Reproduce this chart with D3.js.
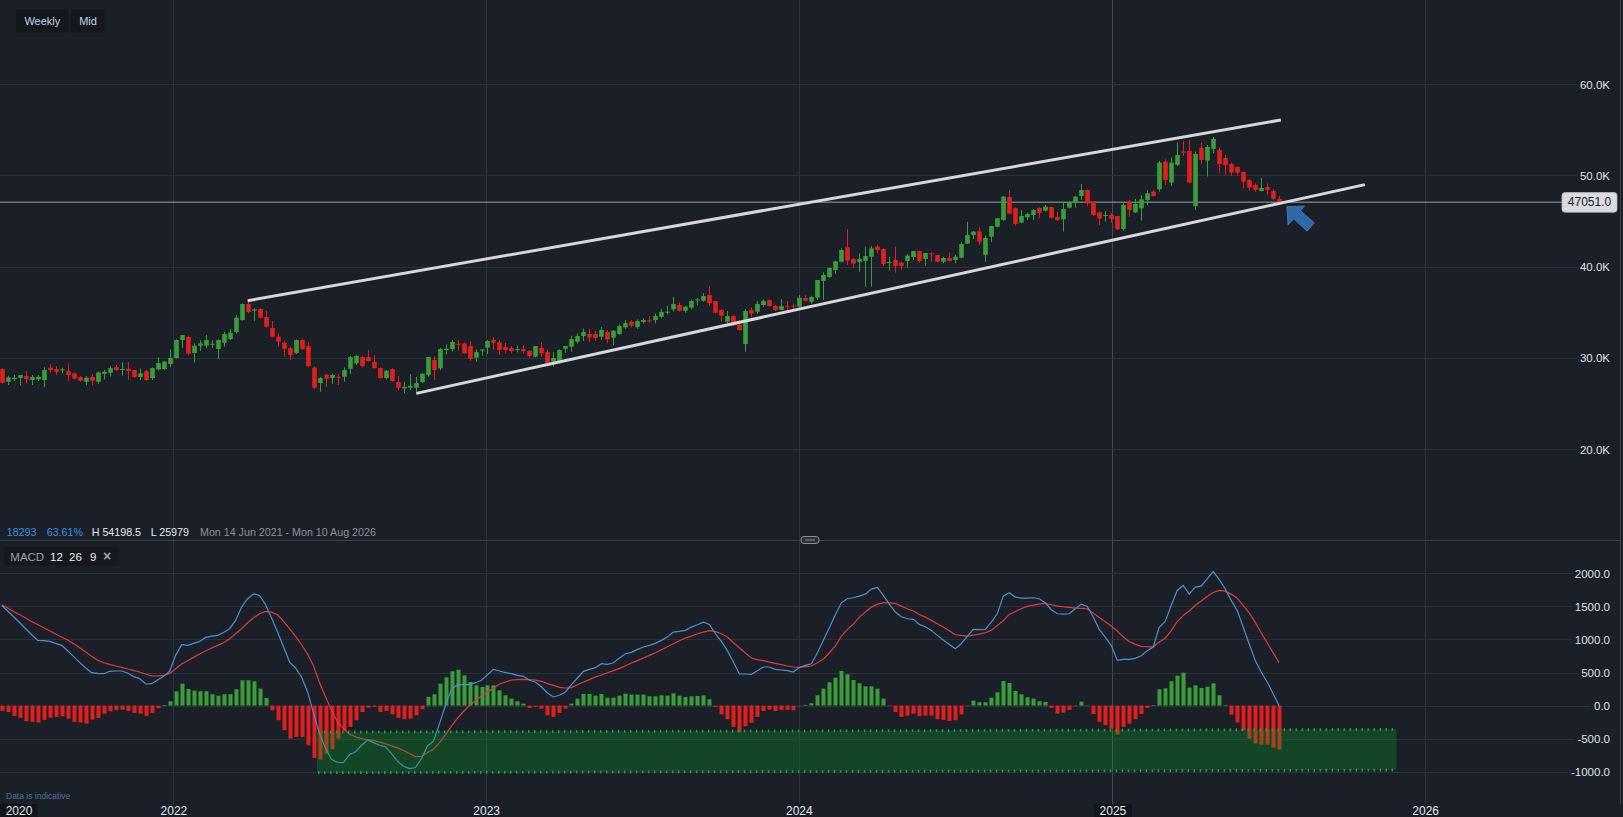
<!DOCTYPE html>
<html><head><meta charset="utf-8">
<script src="https://cdn.jsdelivr.net/npm/d3@7/dist/d3.min.js"></script>
<style>
html,body{margin:0;padding:0;background:#1b2028;overflow:hidden;}
svg{display:block;font-family:"Liberation Sans",Arial,Helvetica,sans-serif;}
</style></head><body>
<svg id="c" width="1623" height="817"></svg>
<script>
// ---------- DATA ----------
const startWeek = "2021-06-14";
const opens = [28761,27372,27664,27774,27993,27555,27628,27555,28907,28761,
28615,28542,28286,27884,27372,27884,27372,28249,28359,28980,
28688,28798,28651,27884,28542,27774,28725,28761,29309,29967,
31941,32270,30516,31320,31320,31466,30954,31649,32051,32818,
34134,35888,35157,35340,34463,33257,32306,31649,31064,30516,
31941,31283,28907,27226,28139,27774,27920,27920,28797,29382,
30077,30077,29528,28871,27774,28761,27336,26641,26714,26714,
27336,28103,29748,28834,30845,30954,31539,31576,31283,30004,
30771,31100,31941,31686,31173,31064,30845,30954,30735,30113,
31064,30625,29565,29638,30991,31210,31758,32380,32599,32599,
32306,32818,32197,32599,33330,33951,33367,33915,34097,34134,
34499,34938,35304,35779,35157,35486,36290,36254,36875,36217,
35230,33951,34573,33586,31502,35230,35048,35779,36327,35669,
35230,35632,35705,35596,36546,36144,36583,38410,38849,39616,
40530,42102,40822,40493,40603,41078,42175,41918,40420,40712,
40420,40603,41041,41699,40822,41443,41261,40530,40932,40713,
40969,42504,43454,43856,41261,43271,44367,45098,47620,46378,
44806,45391,45647,46414,46122,46524,45427,45171,46451,46999,
47730,48388,47109,45939,45537,45647,45537,44112,47109,45939,
46378,47291,48205,48461,51495,49192,51129,52591,52664,46634,
52994,51604,52884,52774,51897,51239,50911,50362,49485,48937,
48279,48718,48279,47401];
const highs = [28834,28030,28103,28103,28542,28103,28103,28944,29309,29090,
28907,29382,28359,27993,27993,28176,28469,28651,29090,29200,
29492,29528,28688,28834,28651,28944,30040,29638,30918,32014,
32489,32380,31576,31941,32489,31941,32014,32855,33147,34682,
35962,36400,35413,35413,35121,34024,32672,31832,31210,32014,
32014,31722,29017,27920,28249,28249,28213,28944,30187,30296,
30187,30845,30296,28944,28651,28834,27993,27372,28213,27920,
28286,30077,30150,31064,31466,31941,31905,31686,31831,30918,
30918,31941,32233,31941,31612,31283,31356,31393,30845,31283,
31722,30918,30625,30918,31283,32416,32672,33184,33147,32964,
33367,33038,33038,33659,34134,34134,34207,34316,34573,34865,
35340,35669,36656,36071,35669,36363,36546,37094,37862,36254,
35304,35121,34646,34134,35304,35523,36217,36400,36400,35779,
36436,36217,35962,36875,36839,36802,38520,39360,39872,40639,
41992,44112,40895,41443,42175,42248,42357,41992,41078,42175,
40530,41370,41699,41736,41480,41553,41261,41078,41553,41261,
42650,44879,43892,44294,43381,44441,45281,47730,48388,46488,
46195,45902,46268,46488,46744,46524,46012,46999,47182,47730,
49046,48461,47182,46012,46085,45829,45537,46999,47291,47401,
47840,48388,48388,51568,51751,51970,53578,53761,53871,52591,
53578,53322,54198.5,53030,52225,51386,50947,50362,49557,49120,
49704,49120,48462,47730];
const lows = [27190,27007,27445,27007,27190,27007,27445,26787,28359,28103,
28286,27482,27628,27372,27007,27007,27153,27628,27920,28542,
28030,27555,27810,27555,27482,27555,28579,28651,28944,29894,
31100,30296,29455,30735,31027,31100,29857,31210,31941,32672,
34061,34865,34061,34317,33330,32233,31210,30113,29748,30406,
30845,29017,26604,26276,26824,27117,27007,27372,28213,29200,
28944,29565,28798,27701,27628,27372,26459,26093,26459,25979,
27226,27920,27555,28651,30369,30662,30771,30406,29675,29565,
30223,30406,30918,30296,30479,30479,30589,30479,30004,30040,
30113,29017,29017,29565,30552,30662,31576,31831,31722,31868,
31941,31576,31393,32526,33184,33330,33184,33768,33842,33768,
34316,34755,35048,35048,34938,35304,35779,36144,35669,34865,
33951,33768,33476,32964,30662,34426,34792,35596,35596,35121,
35230,35157,35377,35596,36144,35851,36327,36327,38776,39178,
40420,40164,39872,39434,37788,37788,41443,40054,39543,39324,
39616,39872,40713,40420,40054,40530,40457,40347,40530,40347,
40895,42504,43015,42358,40530,42686,44294,45025,45720,44477,
44733,45098,45098,45281,46012,45244,44989,43819,46378,46451,
47291,46634,45537,44550,44916,44806,44002,43929,45464,45866,
45025,46707,47657,48205,48936,48827,51020,52116,49119,46195,
51239,49850,52408,50289,50033,49923,49923,48571,48315,48206,
48206,47840,47292,47051];
const closes = [27263,27847,27810,28103,27664,27884,27920,28651,28651,28469,
28725,28103,27701,27482,27810,27482,28396,28469,28871,28651,
28761,28542,27884,28286,27555,28871,29419,29565,29967,31941,
32489,30442,31320,31576,31941,31539,31941,32599,32745,34390,
35888,35011,35304,34390,33403,32306,31758,30991,30296,31941,
30954,29090,26714,27774,27701,28103,27847,28651,30077,30187,
29090,29638,28871,27774,28578,27445,26714,26824,26934,27226,
28249,30077,28651,30954,30991,31722,31430,30479,29858,30625,
30918,31831,31649,30845,30845,30735,30954,30735,30187,31283,
30479,29382,29967,30845,31283,32051,32380,32818,32233,32160,
33038,32014,32964,33476,33805,33513,34024,34134,34024,34573,
35011,35048,35888,35157,35596,36217,36400,36766,35962,34938,
34609,34573,33586,33038,35121,34865,35888,36217,35669,35230,
35669,35559,35632,36583,36254,36656,38520,39068,39836,40566,
41809,40639,40310,40822,41151,41992,41809,40274,40493,40054,
40054,41187,41699,40603,41480,41334,40530,40932,40603,41078,
42467,43454,43819,42723,43125,44441,45281,47657,45792,44660,
45537,45756,46195,45866,46561,45354,45098,46305,46999,47657,
48388,46926,45647,45244,45647,45208,44075,46744,46195,46853,
47365,48022,47730,51385,49485,51385,52225,52482,49192,52335,
51678,53103,53980,51239,51130,50289,50289,49302,48644,48388,
48608,48388,47438,47051];
const macdLine = [1514,1429,1343,1252,1162,1071,986,981,970,940,
910,830,739,653,568,497,487,482,518,523,
523,492,437,407,326,331,387,442,518,759,
920,910,940,970,1031,1051,1061,1106,1162,1288,
1489,1615,1690,1665,1524,1323,1111,885,658,568,
432,206,-122,-424,-650,-811,-861,-861,-741,-700,
-600,-524,-560,-600,-625,-726,-841,-917,-952,-937,
-801,-610,-539,-273,4,246,316,316,316,346,
382,467,548,523,497,482,457,442,382,357,
281,190,130,155,206,316,417,518,548,573,
633,623,648,719,784,804,850,885,910,940,
986,1041,1111,1122,1137,1187,1222,1262,1227,1086,
970,830,658,477,477,472,528,583,583,548,
538,528,507,578,608,633,794,986,1177,1373,
1554,1615,1630,1655,1685,1761,1786,1665,1534,1414,
1343,1313,1303,1227,1192,1137,1061,991,925,860,
935,1046,1152,1147,1152,1262,1388,1655,1705,1640,
1625,1625,1630,1615,1554,1449,1388,1383,1388,1464,
1534,1499,1338,1152,1036,910,684,699,699,714,
754,830,885,1182,1272,1514,1741,1816,1685,1791,
1806,1917,2027,1907,1766,1590,1439,1187,935,684,
507,357,180,-6];
const signalLine = [1524,1474,1423,1373,1323,1272,1227,1177,1132,1081,
1036,991,935,875,809,744,684,648,623,598,
578,553,533,507,477,447,447,457,487,558,
628,679,729,779,825,870,910,950,1011,1086,
1162,1252,1328,1388,1423,1413,1373,1272,1162,1046,
920,779,598,346,130,-71,-248,-348,-434,-474,
-499,-514,-529,-550,-580,-610,-640,-680,-726,-776,
-766,-711,-660,-560,-440,-310,-190,-90,0,75,
145,206,266,326,357,387,392,397,392,387,
367,331,306,276,266,271,316,357,392,432,
462,497,528,563,603,643,679,719,759,799,
845,890,935,981,1021,1051,1086,1111,1132,1117,
1086,1036,950,875,794,719,694,679,658,638,
618,598,583,578,588,598,648,699,799,900,
1051,1152,1232,1338,1414,1489,1534,1554,1554,1544,
1504,1464,1429,1378,1338,1288,1237,1187,1132,1071,
1061,1051,1066,1081,1101,1137,1212,1283,1378,1423,
1464,1499,1519,1534,1544,1524,1504,1494,1484,1474,
1469,1464,1398,1333,1267,1202,1127,1041,970,925,
895,890,885,960,1016,1132,1267,1363,1429,1514,
1580,1650,1710,1741,1731,1685,1625,1514,1403,1262,
1101,950,799,649];
const histogram = [-80,-97,-157,-187,-237,-247,-257,-217,-182,-172,
-162,-197,-247,-257,-272,-212,-187,-122,-86,-71,
-61,-81,-112,-122,-157,-112,-41,5,65,216,
331,251,226,216,216,171,150,171,171,246,
382,382,367,256,115,-71,-222,-373,-499,-474,
-474,-600,-791,-816,-726,-660,-499,-388,-323,-222,
-97,-31,-21,-97,-81,-132,-187,-207,-197,-147,
-56,130,170,331,427,518,543,457,357,306,
281,306,306,231,155,105,65,29,-36,-20,
-46,-147,-172,-112,-46,29,105,175,175,150,
175,120,120,150,180,165,165,165,140,140,
155,150,185,150,130,140,145,155,95,-20,
-132,-207,-323,-398,-313,-262,-172,-81,-61,-81,
-66,-66,-71,-5,10,35,155,256,352,422,
523,472,387,337,291,291,256,105,-5,-97,
-172,-152,-122,-162,-152,-152,-207,-217,-232,-222,
-132,-11,75,50,50,120,201,372,342,221,
170,125,105,65,55,-36,-122,-107,-66,-10,
60,-5,-127,-247,-297,-348,-438,-323,-272,-207,
-127,-36,3,246,261,367,452,497,271,306,
266,286,337,155,10,-137,-257,-373,-499,-574,
-590,-590,-635,-665];
const priceTicks = [20000,30000,40000,50000,60000];
const macdTicks = [-1000,-500,0,500,1000,1500,2000];
const yearLabels = ["2020","2022","2023","2024","2025","2026"];
const yearDates = [null,"2022-01-01","2023-01-01","2024-01-01","2025-01-01","2026-01-01"];
const lastPrice = 47051;
const upperTrend = [{date:"2022-03-28",price:36250},{date:"2025-07-16",price:56060}];
const lowerTrend = [{date:"2022-10-11",price:26096},{date:"2025-10-22",price:48969}];
const macdZone = [{date:"2022-06-17",top:-400,bottom:-1015},{date:"2025-11-28",top:-360,bottom:-975}];
const arrowTip = {date:"2025-07-23",price:46557};
const infoItems = [
  {t:"18293",c:"#3a8ee6"},{t:"63.61%",c:"#3a8ee6"},{t:"H 54198.5",c:"#e6e8eb"},
  {t:"L 25979",c:"#e6e8eb"},{t:"Mon 14 Jun 2021 - Mon 10 Aug 2026",c:"#8b919a"}];

// ---------- SETUP ----------
const W=1623,H=817;
const parse=d3.utcParse("%Y-%m-%d");
const svg=d3.select("#c");
const BG="#1b2028", GRID="#2a313b", TXT="#dfe2e6";
const UP="#3a9d3a", DN="#e01f1f";
svg.append("rect").attr("width",W).attr("height",H).attr("fill",BG);

const x=d3.scaleUtc().domain([parse("2021-06-12"),parse("2026-08-10")]).range([0,1615]);
const y=d3.scaleLinear().domain([20000,60000]).range([449,84]);
const ym=d3.scaleLinear().domain([-1000,2000]).range([771.7,573.3]);
const dates=opens.map((_,i)=>d3.utcDay.offset(parse(startWeek),7*i));
const candles=dates.map((d,i)=>({d,o:opens[i],h:highs[i],l:lows[i],c:closes[i]}));

const defs=svg.append("defs");
defs.append("clipPath").attr("id","pclip").append("rect").attr("x",0).attr("y",0).attr("width",1620).attr("height",540);
defs.append("clipPath").attr("id","mclip").append("rect").attr("x",0).attr("y",541).attr("width",1620).attr("height",245);

// vertical year gridlines
const vg=svg.append("g");
yearDates.forEach((d,i)=>{ if(!d) return;
  vg.append("line").attr("x1",x(parse(d))).attr("x2",x(parse(d))).attr("y1",0).attr("y2",804)
    .attr("stroke",yearLabels[i]==="2025"?"#454c57":GRID).attr("stroke-width",1).attr("shape-rendering","crispEdges");
});

function styleAxis(g){
  g.select(".domain").remove();
  g.selectAll(".tick line").attr("stroke",GRID).attr("shape-rendering","crispEdges");
  g.selectAll(".tick text").attr("x",1610).attr("dy","0.35em").attr("text-anchor","end")
    .attr("fill",TXT).attr("font-size",11.5).attr("font-family","Liberation Sans, Arial, sans-serif");
  g.selectAll(".tick").each(function(){
    const t=d3.select(this); const bb=t.select("text").node().getBBox();
    t.insert("rect","text").attr("x",bb.x-3).attr("y",bb.y).attr("width",bb.width+6).attr("height",bb.height).attr("fill",BG);
  });
}
styleAxis(svg.append("g").call(d3.axisRight(y).tickValues(priceTicks).tickSize(1612).tickFormat(d=>(d/1000).toFixed(1)+"K")));
styleAxis(svg.append("g").call(d3.axisRight(ym).tickValues(macdTicks).tickSize(1612).tickFormat(d=>d.toFixed(1))));

// ---------- PRICE PANE ----------
const pp=svg.append("g").attr("clip-path","url(#pclip)");
pp.append("line").attr("x1",0).attr("x2",1562).attr("y1",y(lastPrice)).attr("y2",y(lastPrice))
  .attr("stroke","#9da2a9").attr("stroke-width",1);
const cw=4.6;
const cg=pp.append("g");
cg.selectAll("line.w").data(candles).join("line")
  .attr("x1",d=>Math.round(x(d.d))+0.5).attr("x2",d=>Math.round(x(d.d))+0.5)
  .attr("y1",d=>y(d.h)).attr("y2",d=>y(d.l))
  .attr("stroke",d=>d.c>=d.o?UP:DN).attr("stroke-width",1);
cg.selectAll("rect.b").data(candles).join("rect")
  .attr("x",d=>Math.round(x(d.d))+0.5-cw/2).attr("width",cw)
  .attr("y",d=>y(Math.max(d.o,d.c))).attr("height",d=>Math.max(1,Math.abs(y(d.o)-y(d.c))))
  .attr("fill",d=>d.c>=d.o?UP:DN);
[upperTrend,lowerTrend].forEach(t=>{
  pp.append("line").attr("x1",x(parse(t[0].date))).attr("y1",y(t[0].price))
    .attr("x2",x(parse(t[1].date))).attr("y2",y(t[1].price))
    .attr("stroke","#d6d7d9").attr("stroke-width",3);
});
const ax=x(parse(arrowTip.date)), ay=y(arrowTip.price);
const arrowPts=[[0,0],[17.7,-0.7],[13.8,4.2],[27.5,16.2],[20.2,24.5],[6.8,12.2],[1.2,18.3]];
pp.append("polygon").attr("points",arrowPts.map(p=>[ax+p[0],ay+p[1]].join(",")).join(" "))
  .attr("fill","#2e68a5").attr("stroke","#3f7fc0").attr("stroke-width",0.8);

const lpY=y(lastPrice);
svg.append("rect").attr("x",1562).attr("y",lpY-9.6).attr("width",55).attr("height",19.6).attr("rx",3)
  .attr("fill","#d8dbe0").attr("stroke","#b7bcc3").attr("stroke-width",0.8);
svg.append("text").attr("x",1589.5).attr("y",lpY).attr("dy","0.36em").attr("text-anchor","middle")
  .attr("font-size",12).attr("fill","#1d222a").text(lastPrice.toFixed(1));

[["Weekly",16,52.7],["Mid",71,34]].forEach(b=>{
  svg.append("rect").attr("x",b[1]).attr("y",9.3).attr("width",b[2]).attr("height",23.4).attr("fill","#14181d");
  svg.append("text").attr("x",b[1]+b[2]/2).attr("y",25).attr("text-anchor","middle").attr("font-size",11)
    .attr("fill","#c3d2e6").text(b[0]);
});

const infoX=[6.7,46.7,91.7,150.7,200];
infoItems.forEach((it,i)=>{
  svg.append("text").attr("x",infoX[i]).attr("y",535.5).attr("font-size",10.7).attr("fill",it.c).text(it.t);
});

svg.append("line").attr("x1",0).attr("x2",1620).attr("y1",540.5).attr("y2",540.5).attr("stroke","#3b424d").attr("stroke-width",1);
svg.append("rect").attr("x",801).attr("y",536.5).attr("width",18).attr("height",7).attr("rx",3)
  .attr("fill","#2b3139").attr("stroke","#8b9098").attr("stroke-width",1);
svg.append("line").attr("x1",805).attr("x2",815).attr("y1",540).attr("y2",540).attr("stroke","#8b9098").attr("stroke-width",1);
svg.append("line").attr("x1",1620.5).attr("x2",1620.5).attr("y1",0).attr("y2",804).attr("stroke","#3b424d");

// ---------- MACD PANE ----------
const mp=svg.append("g").attr("clip-path","url(#mclip)");
const bw=4;
mp.selectAll("rect.h").data(histogram).join("rect")
  .attr("x",(d,i)=>Math.round(x(dates[i]))+0.5-bw/2).attr("width",bw)
  .attr("y",d=>d>=0?ym(d):ym(0)).attr("height",d=>Math.max(0.6,Math.abs(ym(d)-ym(0))))
  .attr("fill",d=>d>=0?UP:DN);
const lineGen=d3.line().x((d,i)=>x(dates[i])).y(d=>ym(d));
mp.append("path").attr("d",lineGen(signalLine)).attr("fill","none").attr("stroke","#e03a3e").attr("stroke-width",1.2);
mp.append("path").attr("d",lineGen(macdLine)).attr("fill","none").attr("stroke","#4d8fd1").attr("stroke-width",1.2);
const z0=macdZone[0], z1=macdZone[1];
const zx0=x(parse(z0.date)), zx1=x(parse(z1.date));
mp.append("polygon").attr("points",[[zx0,ym(z0.top)],[zx1,ym(z1.top)],[zx1,ym(z1.bottom)],[zx0,ym(z0.bottom)]].map(p=>p.join(",")).join(" "))
  .attr("fill","rgba(0,170,35,0.28)");
const zt=d3.scaleLinear().domain([zx0,zx1]).range([z0.top,z1.top]);
const zb=d3.scaleLinear().domain([zx0,zx1]).range([z0.bottom,z1.bottom]);
d3.utcWeek.range(parse(z0.date),parse(z1.date)).forEach(d=>{
  const px=x(d);
  mp.append("rect").attr("x",px-0.7).attr("y",ym(zt(px))-1.3).attr("width",1.5).attr("height",2.7).attr("fill","#2aa33c");
  mp.append("rect").attr("x",px-0.7).attr("y",ym(zb(px))-1.3).attr("width",1.5).attr("height",2.7).attr("fill","#2aa33c");
});

svg.append("rect").attr("x",4).attr("y",546.7).attr("width",115.5).attr("height",19).attr("rx",2).attr("fill","#15191e");
[["MACD",10.3,"#9aa0a8"],["12",50,"#e8eaed"],["26",69,"#e8eaed"],["9",90,"#e8eaed"],["\u00d7",103,"#9aa0a8"]].forEach(t=>{
  svg.append("text").attr("x",t[1]).attr("y",560.5).attr("font-size",t[0]==="\u00d7"?14:11.5).attr("fill",t[2])
    .attr("font-weight",t[0]==="\u00d7"?"bold":"normal").text(t[0]);
});

svg.append("text").attr("x",6).attr("y",799).attr("font-size",8.5).attr("fill","#4f6f96").text("Data is indicative");

// ---------- X AXIS LABELS ----------
yearLabels.forEach((lab,i)=>{
  const cx = yearDates[i] ? x(parse(yearDates[i])) : x.range()[0]+19;
  if(lab==="2020"||lab==="2025"){
    svg.append("rect").attr("x",cx-19).attr("y",804).attr("width",38).attr("height",13).attr("fill","#12161a");
  }
  svg.append("text").attr("x",cx).attr("y",815).attr("text-anchor","middle").attr("font-size",12)
    .attr("fill","#e3e6ea").text(lab);
});
</script></body></html>
